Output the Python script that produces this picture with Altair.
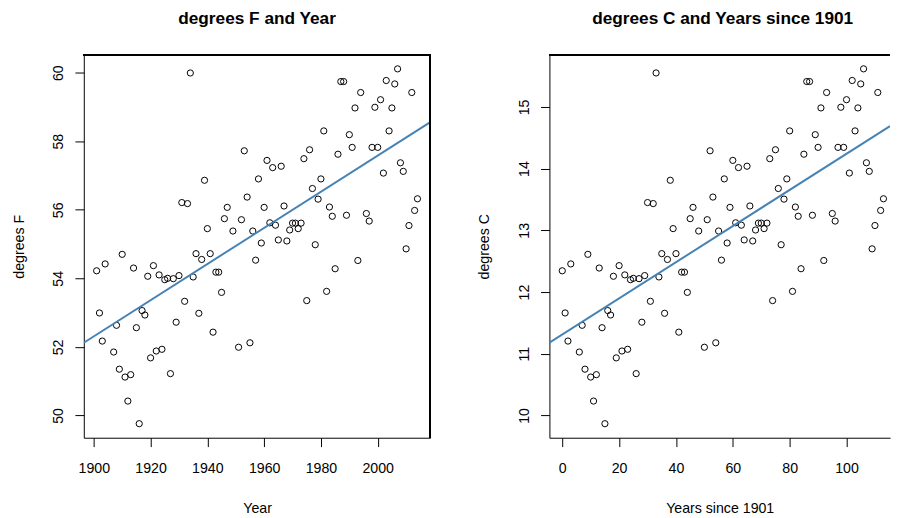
import altair as alt
import pandas as pd

FONT = "Liberation Sans"

years = [1901, 1902, 1903, 1904, 1907, 1908, 1909, 1910, 1911, 1912,
         1913, 1914, 1915, 1916, 1917, 1918, 1919, 1920, 1921, 1922,
         1923, 1924, 1925, 1926, 1927, 1928, 1929, 1930, 1931, 1932,
         1933, 1934, 1935, 1936, 1937, 1938, 1939, 1940, 1941, 1942,
         1943, 1944, 1945, 1946, 1947, 1949, 1951, 1952, 1953, 1954,
         1955, 1956, 1957, 1958, 1959, 1960, 1961, 1962, 1963, 1964,
         1965, 1966, 1967, 1968, 1969, 1970, 1971, 1972, 1973, 1974,
         1975, 1976, 1977, 1978, 1979, 1980, 1981, 1982, 1983, 1984,
         1985, 1986, 1987, 1988, 1989, 1990, 1991, 1992, 1993, 1994,
         1996, 1997, 1998, 1999, 2000, 2001, 2002, 2003, 2004, 2005,
         2006, 2007, 2008, 2009, 2010, 2011, 2012, 2013, 2014]

temp_f = [54.22, 52.99, 52.17, 54.42, 51.85, 52.63, 51.35, 54.70, 51.12, 50.42,
          51.19, 54.30, 52.56, 49.76, 53.06, 52.93, 54.06, 51.68, 54.37, 51.88,
          54.10, 51.93, 53.96, 54.00, 51.22, 53.99, 52.72, 54.08, 56.21, 53.33,
          56.18, 59.99, 54.04, 54.72, 52.98, 54.55, 56.86, 55.45, 54.72, 52.43,
          54.18, 54.18, 53.59, 55.74, 56.07, 55.38, 51.99, 55.71, 57.72, 56.37,
          52.12, 55.38, 54.53, 56.90, 55.03, 56.07, 57.44, 55.62, 57.23, 55.55,
          55.12, 57.27, 56.11, 55.09, 55.41, 55.61, 55.61, 55.45, 55.61, 57.49,
          53.35, 57.75, 56.62, 54.98, 56.31, 56.90, 58.30, 53.62, 56.08, 55.81,
          54.28, 57.62, 59.74, 59.74, 55.84, 58.19, 57.82, 58.97, 54.52, 59.42,
          55.89, 55.67, 57.82, 58.99, 57.82, 59.21, 57.07, 59.77, 58.30, 58.97,
          59.67, 60.11, 57.37, 57.12, 54.86, 55.54, 59.42, 55.98, 56.32]

year_ticks = [1900, 1920, 1940, 1960, 1980, 2000]
f_ticks = [50, 52, 54, 56, 58, 60]
since_ticks = [0, 20, 40, 60, 80, 100]
c_ticks = [10, 11, 12, 13, 14, 15]

df = pd.DataFrame({"Year": years, "F": temp_f})

W_L = 352
W_R = 346
H = 389
X_L_DOM = [1896.48, 2018.52]
Y_L_DOM = [49.35, 60.52]
X_R_DOM = [-4.52, 115.3]
Y_R_DOM = [9.639, 15.844]
LINE_COLOR = "#4682b4"


def xaxis(values, title, fmt="d"):
    return alt.Axis(values=values, title=title, format=fmt, labelFlush=False,
                    labelBaseline="top", labelPadding=15, domain=True,
                    titleY=75.7, titleBaseline="alphabetic")


def yaxis(values, title):
    return alt.Axis(values=values, title=title, format="d", labelAngle=270,
                    labelAlign="center", labelBaseline="bottom", labelPadding=9.5,
                    labelFlush=False, domain=True, titleAngle=270, titleX=-61.5,
                    titleY=H / 2, titleAlign="center", titleBaseline="alphabetic")


# ---------- left panel ----------
base_l = alt.Chart(df)
pts_l = base_l.mark_point(shape="circle", filled=False, size=40, color="black",
                          strokeWidth=1, opacity=1).encode(
    x=alt.X("Year:Q", scale=alt.Scale(domain=X_L_DOM, nice=False, zero=False),
            axis=xaxis(year_ticks, "Year")),
    y=alt.Y("F:Q", scale=alt.Scale(domain=Y_L_DOM, nice=False, zero=False),
            axis=yaxis(f_ticks, "degrees F")),
)
fit_l = base_l.transform_regression("Year", "F", extent=X_L_DOM).mark_line(
    color=LINE_COLOR, strokeWidth=2, clip=True).encode(x="Year:Q", y="F:Q")
top_l = base_l.mark_rule(color="black", strokeWidth=1).encode(
    x=alt.value(0), x2=alt.value(W_L), y=alt.value(0.5))
right_l = base_l.mark_rule(color="black", strokeWidth=1).encode(
    x=alt.value(W_L - 0.5), y=alt.value(0), y2=alt.value(H))

left = alt.layer(pts_l, fit_l, top_l, right_l).properties(
    width=W_L, height=H,
    title=alt.TitleParams("degrees F and Year", fontSize=17.5, fontWeight="bold",
                          font=FONT, color="black", baseline="alphabetic",
                          offset=13.5, anchor="middle"))

# ---------- right panel ----------
base_r = alt.Chart(df).transform_calculate(
    Since="datum.Year - 1901", C="(datum.F - 32) * 5 / 9")
pts_r = base_r.mark_point(shape="circle", filled=False, size=40, color="black",
                          strokeWidth=1, opacity=1).encode(
    x=alt.X("Since:Q", scale=alt.Scale(domain=X_R_DOM, nice=False, zero=False),
            axis=xaxis(since_ticks, "Years since 1901")),
    y=alt.Y("C:Q", scale=alt.Scale(domain=Y_R_DOM, nice=False, zero=False),
            axis=yaxis(c_ticks, "degrees C")),
)
fit_r = base_r.transform_regression("Since", "C", extent=X_R_DOM).mark_line(
    color=LINE_COLOR, strokeWidth=2, clip=True).encode(x="Since:Q", y="C:Q")
top_r = base_r.mark_rule(color="black", strokeWidth=1).encode(
    x=alt.value(0), x2=alt.value(W_R), y=alt.value(0.5))

right = alt.layer(pts_r, fit_r, top_r).properties(
    width=W_R, height=H,
    title=alt.TitleParams("degrees C and Years since 1901", fontSize=17.5,
                          fontWeight="bold", font=FONT, color="black",
                          baseline="alphabetic", offset=13.5, anchor="middle", dx=3))

chart = alt.hconcat(left, right, spacing=46).properties(
    padding={"left": 3, "top": -2.5, "right": 0, "bottom": 0}
).configure_view(strokeWidth=0).configure_axis(
    labelFont=FONT, titleFont=FONT, labelColor="black", titleColor="black",
    tickColor="black", domainColor="black", grid=False, labelFontSize=14.4,
    titleFontSize=14.4, titleFontWeight="normal", tickSize=9, tickWidth=1,
    domainWidth=1)

chart.save("out.html", embed_options={"renderer": "svg", "actions": False})
